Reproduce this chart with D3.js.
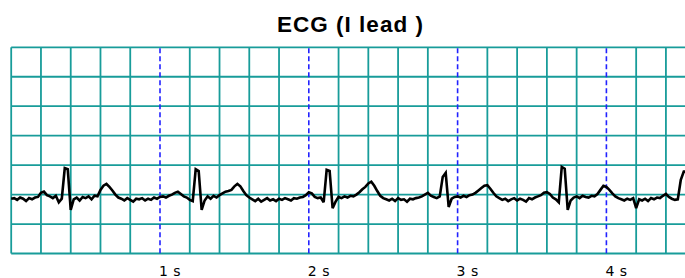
<!DOCTYPE html>
<html>
<head>
<meta charset="utf-8">
<script src="https://cdn.jsdelivr.net/npm/d3@7"></script>
<style>
  html, body { margin: 0; padding: 0; background: #ffffff; }
  svg { display: block; }
</style>
</head>
<body>
<svg id="chart" width="685" height="278"></svg>
<script>
// ---- data ----
const titleText = "ECG (I lead )";
const sampleStep = 0.02; // seconds between samples
const ecgMv = [
  -0.07, -0.06, -0.09, -0.05, -0.07, -0.11, -0.06, -0.08, -0.05, -0.04,
  0.03, 0.05, -0.01,
  -0.03, -0.06, -0.02, -0.13, -0.07,
  0.45, 0.43, -0.26, -0.08,
  -0.05, -0.10, -0.04, -0.06, -0.03, -0.08, -0.02, -0.03,
  0.08, 0.15, 0.18, 0.13, 0.07, 0.00, -0.05,
  -0.07, -0.10, -0.06, -0.09, -0.12, -0.07, -0.08, -0.06, -0.10, -0.07, -0.09, -0.05, -0.07,
  -0.04, -0.03, -0.05, -0.02, 0.00,
  0.03, 0.05, 0.01, -0.03,
  -0.05, -0.09, -0.11,
  0.43, 0.40, -0.26, -0.10,
  -0.03, -0.07, -0.02, -0.05, -0.01, 0.02, 0.05,
  0.06, 0.08, 0.14, 0.18, 0.14, 0.06, -0.01, -0.05,
  -0.08, -0.11, -0.07, -0.12, -0.09, -0.06, -0.10, -0.08, -0.11, -0.07, -0.09, -0.06, -0.08, -0.10, -0.06, -0.07, -0.05, -0.04, -0.01,
  0.04, 0.02, -0.04, -0.06, -0.05, -0.13,
  0.42, 0.40, -0.23, -0.12,
  -0.04, -0.06, -0.03, -0.05, -0.02,
  -0.03, 0.00, 0.04, 0.09, 0.13, 0.19, 0.22, 0.15, 0.06, -0.02, -0.06,
  -0.08, -0.10, -0.07, -0.11, -0.06, -0.09, -0.08, -0.12, -0.07, -0.08, -0.06, -0.05, -0.03, 0.00,
  0.03, -0.02, -0.04, -0.06, -0.03,
  0.30, 0.37, -0.21, -0.07,
  -0.04, -0.03, -0.05, -0.02, -0.04, -0.01,
  0.00, 0.03, 0.07, 0.11, 0.15, 0.16, 0.10, 0.03, -0.03, -0.06,
  -0.09, -0.07, -0.11, -0.08, -0.06, -0.10, -0.07, -0.09, -0.12, -0.06, -0.08, -0.05, -0.03, -0.01,
  0.03, 0.04, 0.01, -0.05, -0.08, -0.13,
  0.47, 0.44, -0.26, -0.10,
  -0.05, -0.03, -0.06, -0.02, -0.04, -0.05, -0.02, -0.03,
  0.01, 0.08, 0.15, 0.13, 0.08, 0.02, -0.03, -0.06,
  -0.08, -0.10, -0.07, -0.09, -0.06, -0.23, -0.08, -0.10, -0.07, -0.11, -0.06, -0.08, -0.05, -0.06, -0.02, 0.01,
  -0.04, -0.07, -0.09, -0.08, 0.25, 0.39, 0.39, -0.26, -0.08, -0.04
];
const secondTicks = [1, 2, 3, 4];
const tickLabels = ["1 s", "2 s", "3 s", "4 s"];
const timeDomain = [0, 4.6];
const mvDomain = [-1.0, 2.5];
const gridStepSec = 0.2;
const gridStepMv = 0.5;

// ---- layout ----
const svg = d3.select("#chart");
const plotLeft = 11.2, plotTop = 47.3, plotBottom = 253.5;
const pxPerSec = 148.8;
const x = d3.scaleLinear().domain(timeDomain).range([plotLeft, plotLeft + (timeDomain[1] - timeDomain[0]) * pxPerSec]);
const y = d3.scaleLinear().domain(mvDomain).range([plotBottom, plotTop]);

const gridColor = "#189c9a";

// vertical teal grid lines (skip whole seconds, drawn dashed)
const vLines = d3.range(0, timeDomain[1] + 1e-6, gridStepSec)
  .filter(t => Math.abs(t - Math.round(t)) > 1e-6 || Math.round(t) === 0);
svg.append("g").selectAll("line").data(vLines).join("line")
  .attr("x1", d => x(d)).attr("x2", d => x(d))
  .attr("y1", y(mvDomain[1])).attr("y2", y(mvDomain[0]))
  .attr("stroke", gridColor).attr("stroke-width", 1.8);

// horizontal teal grid lines
const hLines = d3.range(mvDomain[0], mvDomain[1] + 1e-6, gridStepMv);
svg.append("g").selectAll("line").data(hLines).join("line")
  .attr("x1", x(0)).attr("x2", x(timeDomain[1]))
  .attr("y1", d => y(d)).attr("y2", d => y(d))
  .attr("stroke", gridColor).attr("stroke-width", 1.8);

// blue dashed second markers
svg.append("g").selectAll("line").data(secondTicks).join("line")
  .attr("x1", d => x(d)).attr("x2", d => x(d))
  .attr("y1", y(mvDomain[1]) + 1).attr("y2", y(mvDomain[0]))
  .attr("stroke", "#2222ff").attr("stroke-width", 1.6)
  .attr("stroke-dasharray", "5,3");

// ECG trace
const line = d3.line()
  .x((d, i) => x(i * sampleStep))
  .y(d => y(d));
svg.append("path")
  .datum(ecgMv)
  .attr("d", line)
  .attr("fill", "none")
  .attr("stroke", "#000000")
  .attr("stroke-width", 2.6)
  .attr("stroke-linejoin", "miter")
  .attr("stroke-miterlimit", 3);

// tick labels
svg.append("g").selectAll("text").data(secondTicks).join("text")
  .attr("x", d => x(d) - 1)
  .attr("y", 276)
  .attr("font-family", "DejaVu Sans, Verdana, sans-serif")
  .attr("font-size", 14)
  .attr("fill", "#000")
  .attr("letter-spacing", 0.5)
  .text((d, i) => tickLabels[i]);

// title
svg.append("text")
  .attr("x", 350.5)
  .attr("y", 32)
  .attr("text-anchor", "middle")
  .attr("font-family", "Liberation Sans, Arial, sans-serif")
  .attr("font-weight", "bold")
  .attr("font-size", 22.5)
  .attr("letter-spacing", 1)
  .attr("fill", "#000")
  .text(titleText);
</script>
</body>
</html>
